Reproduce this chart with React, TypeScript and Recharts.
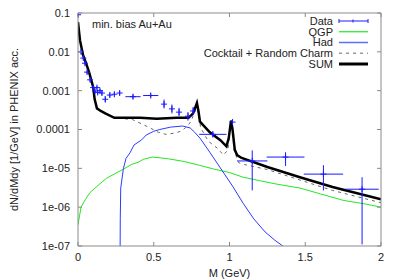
import { ComposedChart, Line, Scatter, ErrorBar, XAxis, YAxis, Legend } from 'recharts'

const xTicks = [0, 0.5, 1, 1.5, 2]
const yTicks = [1e-7, 1e-6, 1e-5, 1e-4, 1e-3, 1e-2, 1e-1]
const yTickLabels = ['1e-07', '1e-06', '1e-05', '0.0001', '0.001', '0.01', '0.1']

// measured dielectron spectrum (M in GeV)
const dataM = [0.0, 0.02, 0.035, 0.046, 0.06, 0.08, 0.1, 0.112, 0.125, 0.13, 0.145, 0.158, 0.18, 0.21, 0.24, 0.275, 0.363, 0.48, 0.568, 0.62, 0.667, 0.726, 0.76, 0.89, 1.02, 1.15, 1.37, 1.62, 1.875]
const dataY = [0.09, 0.01, 0.0069, 0.0051, 0.003, 0.0019, 0.0012, 0.00098, 0.0012, 0.0009, 0.001, 0.00087, 0.0006, 0.00077, 0.00081, 0.00087, 0.0007, 0.00075, 0.00045, 0.00034, 0.00028, 0.00022, 0.0003, 7.5e-5, 0.000155, 1.55e-5, 1.95e-5, 7.1e-6, 2.9e-6]
const dataErrX = [0, 0, 0, 0, 0, 0, 0, 0, 0, 0, 0, 0, 0, 0, 0, 0, 0.05, 0.05, 0, 0, 0, 0, 0, 0.09, 0, 0.1, 0.125, 0.13, 0.11]
const dataErrLo = [0.005, 0.001, 0.0007, 0.0005, 0.0003, 0.0002, 0.00012, 0.0001, 0.00012, 0.0001, 0.0001, 0.0001, 0.0001, 0.0001, 0.0001, 0.0001, 0.00008, 0.00008, 0.0001, 0.00008, 0.00006, 0.00005, 0.00006, 1.2e-5, 2e-5, 1.28e-5, 0.8e-5, 4.4e-6, 2.79e-6]
const dataErrHi = [0.005, 0.001, 0.0007, 0.0005, 0.0003, 0.0002, 0.00012, 0.0001, 0.00012, 0.0001, 0.0001, 0.0001, 0.00012, 0.00012, 0.00012, 0.00012, 0.0001, 0.0001, 0.00014, 0.0001, 0.00008, 0.00006, 0.00008, 1.5e-5, 2.5e-5, 1.35e-5, 0.65e-5, 4.9e-6, 3.0e-6]

const qgpM = [0, 0.02, 0.05, 0.08, 0.12, 0.16, 0.19, 0.25, 0.3, 0.355, 0.4, 0.43, 0.49, 0.55, 0.6, 0.7, 0.8, 0.9, 1.0, 1.09, 1.2, 1.3, 1.465, 1.6, 1.75, 1.9, 2.0]
const qgpY = [3.5e-7, 1.0e-6, 1.6e-6, 2.4e-6, 3.3e-6, 4.5e-6, 5.6e-6, 7.5e-6, 9.5e-6, 1.27e-5, 1.45e-5, 1.7e-5, 1.95e-5, 1.85e-5, 1.75e-5, 1.5e-5, 1.2e-5, 9.5e-6, 7.8e-6, 5.9e-6, 4.8e-6, 4.0e-6, 3.1e-6, 2.2e-6, 1.5e-6, 1.2e-6, 1.0e-6]

const hadM = [0.277, 0.279, 0.282, 0.3, 0.317, 0.343, 0.37, 0.42, 0.45, 0.5, 0.54, 0.61, 0.69, 0.74, 0.77, 0.805, 0.87, 0.95, 1.02, 1.09, 1.16, 1.235, 1.3, 1.37]
const hadY = [1e-8, 5e-7, 3.1e-6, 1e-5, 1.8e-5, 2.5e-5, 4e-5, 5.4e-5, 7.2e-5, 9e-5, 1.0e-4, 1.15e-4, 1.23e-4, 1.1e-4, 8.5e-5, 6e-5, 2.6e-5, 8.9e-6, 3.5e-6, 1.26e-6, 5e-7, 2.3e-7, 1.4e-7, 8.9e-8]

const cocktailM = [0, 0.013, 0.033, 0.053, 0.073, 0.1, 0.11, 0.125, 0.15, 0.18, 0.24, 0.3, 0.36, 0.42, 0.475, 0.53, 0.58, 0.63, 0.68, 0.72, 0.75, 0.775, 0.785, 0.795, 0.81, 0.86, 0.92, 0.96, 0.99, 1.005, 1.015, 1.03, 1.06, 1.1, 1.25, 1.465, 1.68, 2.0]
const cocktailY = [0.058, 0.02, 0.0083, 0.0051, 0.003, 0.00125, 0.0006, 0.00035, 0.0003, 0.00026, 0.0002, 1.9e-4, 1.8e-4, 1.4e-4, 1.1e-4, 8.5e-5, 7.5e-5, 8e-5, 9e-5, 1.2e-4, 1.7e-4, 3.5e-4, 4.5e-4, 2.5e-4, 1.1e-4, 5e-5, 3.3e-5, 2.2e-5, 3e-5, 1.2e-4, 1.4e-4, 3e-5, 1.4e-5, 1.25e-5, 9.3e-6, 5e-6, 2.7e-6, 1.3e-6]

const sumM = [0, 0.013, 0.033, 0.053, 0.073, 0.1, 0.11, 0.125, 0.15, 0.18, 0.24, 0.32, 0.41, 0.52, 0.65, 0.73, 0.76, 0.785, 0.795, 0.805, 0.87, 0.94, 0.98, 0.995, 1.01, 1.02, 1.035, 1.05, 1.08, 1.25, 1.465, 1.68, 2.0]
const sumY = [0.058, 0.02, 0.0083, 0.0051, 0.003, 0.00125, 0.0006, 0.00035, 0.0003, 0.00026, 0.0002, 0.0002, 0.0002, 0.00019, 0.0002, 0.0002, 0.00026, 0.00048, 0.0003, 0.00016, 8.5e-5, 5.3e-5, 3.7e-5, 6e-5, 0.00017, 0.0001, 3e-5, 2.2e-5, 1.85e-5, 1.08e-5, 5.9e-6, 3.3e-6, 1.6e-6]

const legendNames = ['Data', 'QGP', 'Had', 'Cocktail + Random Charm', 'SUM']

const FONT = '"Liberation Sans", Arial, sans-serif'
const BORDER = '#8a8a8a'
const DATA_C = '#1a1aff'
const HAD_C = '#2a3cff'
const QGP_C = '#22e822'

const curve = (ms: number[], ys: number[]) => ms.map((m, i) => ({ m, v: ys[i] }))
const measured = dataM.map((m, i) => ({ m, v: dataY[i], ex: dataErrX[i], ey: [dataErrLo[i], dataErrHi[i]] }))

const yLabel = (v: number) => yTickLabels[Math.round(Math.log10(v)) + 7]

const LeftTick = (p: any) => {
  const ax = p.x + 8
  return (
    <g>
      <line x1={ax} y1={p.y} x2={ax + 4} y2={p.y} stroke={BORDER} />
      <text x={p.x} y={p.y} dy="0.36em" textAnchor="end" fontSize={11} fill="#222" fontFamily={FONT}>
        {yLabel(p.payload.value)}
      </text>
    </g>
  )
}
const RightTick = (p: any) => <line x1={p.x - 4} y1={p.y} x2={p.x} y2={p.y} stroke={BORDER} />
const BottomTick = (p: any) => {
  const ay = p.y - 7
  return (
    <g>
      <line x1={p.x} y1={ay - 4} x2={p.x} y2={ay} stroke={BORDER} />
      <text x={p.x} y={p.y} dy="0.71em" textAnchor="middle" fontSize={11} fill="#222" fontFamily={FONT}>
        {p.payload.value}
      </text>
    </g>
  )
}
const TopTick = (p: any) => <line x1={p.x} y1={p.y} x2={p.x} y2={p.y + 4} stroke={BORDER} />

const YTitle = (p: any) => {
  const vb = p.viewBox || { y: 13, height: 233 }
  const cy = vb.y + vb.height / 2
  return (
    <text x={14} y={cy} transform={`rotate(-90 14 ${cy})`} textAnchor="middle" dominantBaseline="central" fontSize={11} fill="#222" fontFamily={FONT}>
      dN/dMdy [1/GeV] in PHENIX acc.
    </text>
  )
}
const XTitle = (p: any) => {
  const vb = p.viewBox || { x: 78, width: 303 }
  return (
    <text x={vb.x + vb.width / 2} y={277} textAnchor="middle" fontSize={11} fill="#222" fontFamily={FONT}>
      M (GeV)
    </text>
  )
}

const Plus = (p: any) => (
  <g stroke={DATA_C} strokeWidth={1}>
    <line x1={p.cx - 3} y1={p.cy} x2={p.cx + 3} y2={p.cy} />
    <line x1={p.cx} y1={p.cy - 3} x2={p.cx} y2={p.cy + 3} />
  </g>
)

const LegendBox = () => (
  <svg width={400} height={80} style={{ display: 'block' }}>
    {legendNames.map((name, i) => {
      const y = 21 + i * 10.75
      return (
        <g key={name}>
          <text x={333} y={y} dy="0.36em" textAnchor="end" fontSize={11} fill="#222" fontFamily={FONT}>
            {name}
          </text>
          {i === 0 && (
            <g stroke={DATA_C}>
              <line x1={339} y1={y} x2={368} y2={y} />
              <line x1={339} y1={y - 2} x2={339} y2={y + 2} />
              <line x1={368} y1={y - 2} x2={368} y2={y + 2} />
              <line x1={353} y1={y - 1.5} x2={353} y2={y + 1.5} />
            </g>
          )}
          {i === 1 && <line x1={339} y1={y} x2={368} y2={y} stroke={QGP_C} strokeWidth={1.2} />}
          {i === 2 && <line x1={339} y1={y} x2={368} y2={y} stroke={HAD_C} strokeWidth={1.5} opacity={0.75} />}
          {i === 3 && <line x1={339} y1={y} x2={368} y2={y} stroke="#999" strokeWidth={1.5} strokeDasharray="3 4" />}
          {i === 4 && <line x1={339} y1={y} x2={368} y2={y} stroke="#000" strokeWidth={3} />}
        </g>
      )
    })}
  </svg>
)

export default function App() {
  return (
    <div style={{ position: 'absolute', left: 0, top: 0, width: 400, height: 280, background: '#fff' }}>
      <ComposedChart width={400} height={280} margin={{ top: 0, right: 0, bottom: 0, left: 0 }}>
        <XAxis
          xAxisId="b"
          type="number"
          dataKey="m"
          domain={[0, 2]}
          ticks={xTicks}
          allowDataOverflow
          height={34}
          tickSize={0}
          tickMargin={7}
          stroke={BORDER}
          tick={<BottomTick />}
          label={<XTitle />}
        />
        <XAxis
          xAxisId="t"
          orientation="top"
          type="number"
          dataKey="m"
          domain={[0, 2]}
          ticks={xTicks}
          allowDataOverflow
          height={13}
          tickSize={0}
          tickMargin={0}
          stroke={BORDER}
          tick={<TopTick />}
        />
        <YAxis
          yAxisId="l"
          scale="log"
          type="number"
          domain={[1e-7, 0.1]}
          ticks={yTicks}
          allowDataOverflow
          width={78}
          tickSize={0}
          tickMargin={8}
          stroke={BORDER}
          tick={<LeftTick />}
          label={<YTitle />}
        />
        <YAxis
          yAxisId="r"
          orientation="right"
          scale="log"
          type="number"
          domain={[1e-7, 0.1]}
          ticks={yTicks}
          allowDataOverflow
          width={19}
          tickSize={0}
          tickMargin={0}
          stroke={BORDER}
          tick={<RightTick />}
        />
        <Legend layout="horizontal" verticalAlign="middle" align="center" wrapperStyle={{ position: 'absolute', left: 0, top: 0, width: 400 }} content={<LegendBox />} />
        <Line xAxisId="b" yAxisId="l" data={curve(qgpM, qgpY)} dataKey="v" type="linear" stroke={QGP_C} strokeWidth={1} dot={false} isAnimationActive={false} />
        <Line xAxisId="b" yAxisId="l" data={curve(hadM, hadY)} dataKey="v" type="linear" stroke={HAD_C} strokeWidth={1} dot={false} isAnimationActive={false} />
        <Line xAxisId="b" yAxisId="l" data={curve(cocktailM, cocktailY)} dataKey="v" type="linear" stroke="#666" strokeWidth={1} strokeDasharray="3 4" dot={false} isAnimationActive={false} />
        <Line xAxisId="b" yAxisId="l" data={curve(sumM, sumY)} dataKey="v" type="linear" stroke="#000" strokeWidth={2.5} dot={false} isAnimationActive={false} />
        <Scatter xAxisId="b" yAxisId="l" data={measured} dataKey="v" shape={<Plus />} isAnimationActive={false}>
          <ErrorBar dataKey="ey" direction="y" width={0} stroke={DATA_C} strokeWidth={1} isAnimationActive={false} />
          <ErrorBar dataKey="ex" direction="x" width={0} stroke={DATA_C} strokeWidth={1} isAnimationActive={false} />
        </Scatter>
      </ComposedChart>
      <div style={{ position: 'absolute', left: 92, top: 18, fontFamily: FONT, fontSize: 11, color: '#222', lineHeight: '13px' }}>
        min. bias Au+Au
      </div>
    </div>
  )
}
